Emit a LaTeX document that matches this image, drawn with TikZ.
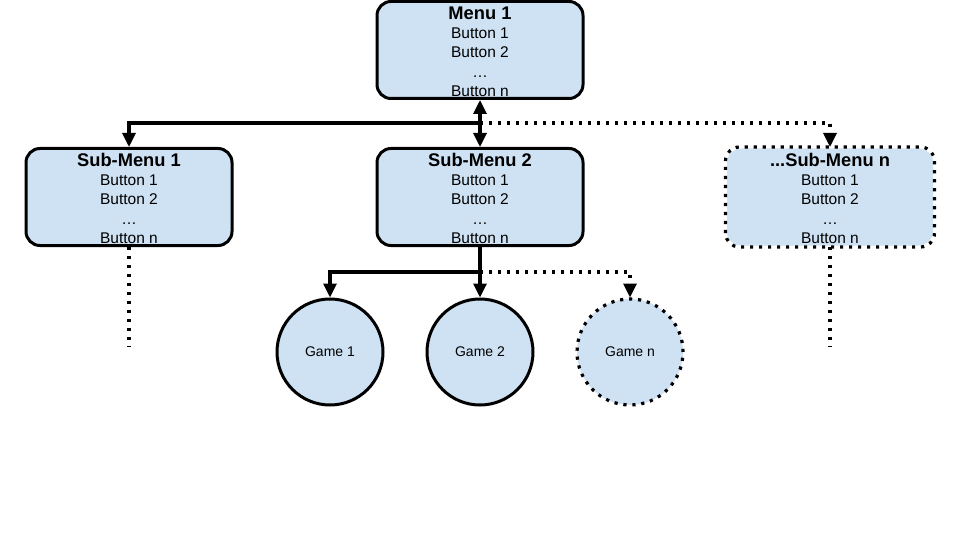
\documentclass[tikz,border=0pt]{standalone}
\usepackage{fontspec}
\setmainfont{Liberation Sans}
\usepackage{xcolor}
\usetikzlibrary{arrows.meta,positioning}

\definecolor{boxblue}{HTML}{CFE2F3}

\tikzset{
    menubox/.style={draw, line width=3pt, fill=boxblue, rounded corners=14pt,
        minimum width=206pt, minimum height=97pt, inner sep=0pt, align=center,
        font=\fontsize{15.5}{19.3}\selectfont},
    gamebox/.style={draw, circle, line width=3pt, fill=boxblue,
        minimum size=106pt, inner sep=0pt, font=\fontsize{14}{16}\selectfont},
    dotted line/.style={dash pattern=on 3.2pt off 5.8pt},
    link/.style={line width=3.2pt, >={Triangle[width=13pt,length=14pt]}},
    dots/.style={link, dotted line},
}

\newcommand{\menutext}[1]{{\fontsize{18.3}{19.3}\selectfont\bfseries\rule{0pt}{16pt}#1}\\Button 1\\Button 2\\…\\Button n}

\begin{document}
\begin{tikzpicture}[x=1pt, y=-1pt]
    \useasboundingbox (0,0) rectangle (960,540);

    % menus
    \node[menubox] (menu) at (480,50) {\menutext{Menu 1}};
    \node[menubox] (sub1) at (129,197) {\menutext{Sub-Menu 1}};
    \node[menubox] (sub2) at (480,197) {\menutext{Sub-Menu 2}};
    \node[menubox, draw=none] (subn) at (830,197) {\menutext{...Sub-Menu n}};
    \draw[dots, rounded corners=14pt] (subn.south west) rectangle (subn.north east);

    % games
    \node[gamebox] (game1) at (330,352) {Game 1};
    \node[gamebox] (game2) at (480,352) {Game 2};
    \node[gamebox, draw=none] (gamen) at (630,352) {Game n};
    \draw[dots] (gamen) circle (53pt);

    % menu -> sub-menus
    \coordinate (bar1) at (480,123);
    \draw[link,<->] (menu.south) -- (sub2.north);
    \draw[link,->] (bar1) -| (sub1.north);
    \draw[dots,->] (bar1) -| (subn.north);

    % sub-menu 2 -> games
    \coordinate (bar2) at (480,272);
    \draw[link] (sub2.south) -- (bar2);
    \draw[link,->] (bar2) -- (game2.north);
    \draw[link,->] (bar2) -| (game1.north);
    \draw[dots,->] (bar2) -| (gamen.north);

    % more below
    \coordinate (tail1) at (129,347);
    \coordinate (tailn) at (830,347);
    \draw[dots] (sub1.south) -- (tail1);
    \draw[dots] (subn.south) -- (tailn);

\end{tikzpicture}
\end{document}
